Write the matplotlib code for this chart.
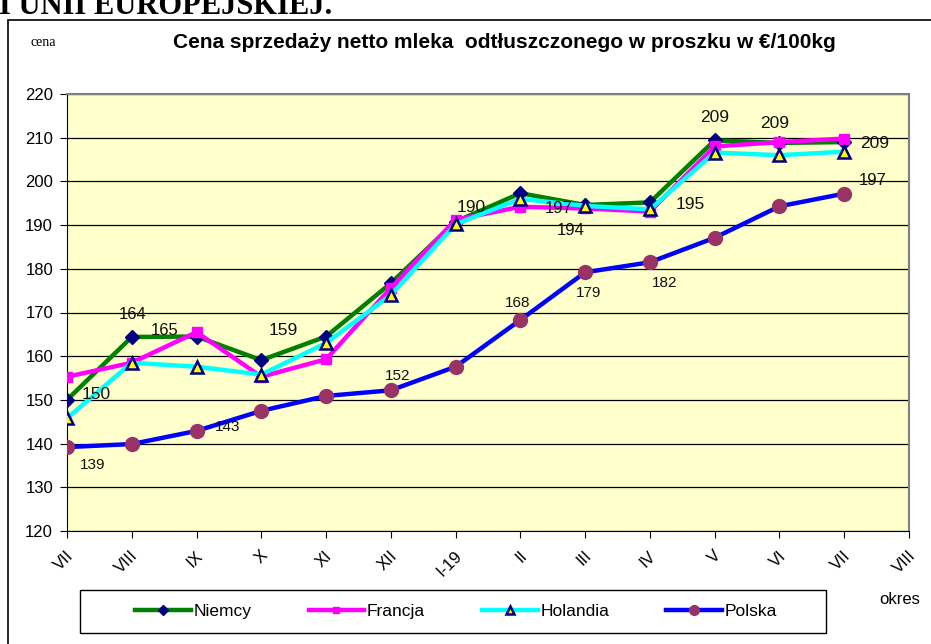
import numpy as np
import matplotlib
matplotlib.use("Agg")
import matplotlib.pyplot as plt
import matplotlib.patches as patches
from matplotlib.transforms import ScaledTranslation

# category labels on the x axis (last one has no data)
months = ["VII", "VIII", "IX", "X", "XI", "XII", "I-19", "II", "III", "IV", "V", "VI", "VII", "VIII"]

# prices in EUR/100kg
niemcy = [150.0, 164.4, 164.5, 159.1, 164.5, 176.7, 190.8, 197.3, 194.6, 195.2, 209.4, 208.8, 209.0]
francja = [155.3, 158.5, 165.5, 155.3, 159.3, 175.6, 191.2, 194.2, 193.8, 193.1, 208.0, 209.0, 209.8]
holandia = [145.8, 158.5, 157.6, 155.8, 163.0, 174.0, 190.2, 196.0, 194.4, 193.6, 206.6, 206.0, 206.8]
polska = [139.2, 139.9, 142.9, 147.5, 150.9, 152.2, 157.6, 168.3, 179.2, 181.5, 187.1, 194.3, 197.2]

# data labels: (series index, point index, text, dx px, dy px, size)
labels = [
    (0, 0, "150", 29, 5, 12.5), (0, 1, "164", 1, 22, 12), (0, 2, "165", -32, 6, 12),
    (0, 3, "159", 22, 30, 12.5), (0, 6, "190", 16, 14, 12.5), (1, 7, "197", 38, -2, 12),
    (1, 8, "194", -14, -22, 12), (0, 9, "195", 40, -2, 12.5), (0, 10, "209", 0, 23, 12.5),
    (0, 11, "209", -5, 19, 12.5), (0, 12, "209", 30, -1, 12.5),
    (3, 12, "197", 28, 13, 12), (3, 0, "139", 26, -18, 11), (3, 2, "143", 31, 4, 11),
    (3, 5, "152", 7, 14, 11), (3, 7, "168", -3, 17, 11), (3, 8, "179", 3, -21, 11),
    (3, 9, "182", 15, -21, 11),
]

W, H = 931, 644
plt.rcParams['font.family'] = ['Liberation Sans', 'DejaVu Sans']
fig = plt.figure(figsize=(W / 100, H / 100), dpi=100)

# chart frame
fig.patches.append(patches.Rectangle((8 / W, -0.05), 1.1, 1 - 20 / H + 0.05, transform=fig.transFigure,
                                     fill=False, edgecolor='black', linewidth=1.2))
fig.text(-1 / W, 1 - 14 / H, "I UNII EUROPEJSKIEJ.", family='Liberation Serif', weight='bold',
         fontsize=22, va='baseline', ha='left')
fig.text(30 / W, 1 - 42 / H, "cena", family='Liberation Serif', fontsize=10, va='center', ha='left')
fig.text(504 / W, 1 - 43 / H, "Cena sprzedaży netto mleka  odtłuszczonego w proszku w €/100kg",
         weight='bold', fontsize=15, va='center', ha='center')
fig.text(900 / W, 1 - 600 / H, "okres", fontsize=12, va='center', ha='center')

left, right, top, bottom = 67, 909, 94, 531
ax = fig.add_axes([left / W, 1 - bottom / H, (right - left) / W, (bottom - top) / H])
ax.set_facecolor('#FFFFCC')
x = np.arange(len(niemcy))

series = [
    (niemcy, 'Niemcy', '#008000', dict(marker='D', markersize=7, markerfacecolor='#000080', markeredgecolor='#000080')),
    (francja, 'Francja', '#FF00FF', dict(marker='s', markersize=7, markerfacecolor='#FF00FF', markeredgecolor='#FF00FF')),
    (holandia, 'Holandia', '#00FFFF', dict(marker='^', markersize=9, markerfacecolor='#FFFF00', markeredgecolor='#000080', markeredgewidth=1.8)),
    (polska, 'Polska', '#0000FF', dict(marker='o', markersize=10, markerfacecolor='#993366', markeredgecolor='#993366')),
]
handles = []
for vals, name, col, mk in series:
    h, = ax.plot(x, vals, color=col, linewidth=3.2, label=name, zorder=3, **mk)
    handles.append(h)

data = [s[0] for s in series]
for si, pi, txt, dx, dy, fs in labels:
    ax.annotate(txt, (x[pi], data[si][pi]), xytext=(dx * 0.72, dy * 0.72), textcoords='offset points',
                ha='center', va='center', fontsize=fs, color='#111111', zorder=5)

ax.set_xlim(0, len(months) - 1)
ax.set_ylim(120, 220)
ax.set_yticks(np.arange(120, 221, 10))
ax.set_xticks(np.arange(len(months)))
ax.set_xticklabels(months, rotation=45, ha='right', va='center', rotation_mode='anchor', fontsize=12)
ax.tick_params(axis='x', direction='out', length=5, pad=11)
ax.tick_params(axis='y', direction='out', length=5, labelsize=12, pad=5)
shift = ScaledTranslation(0.04, 0, fig.dpi_scale_trans)
for lab in ax.get_xticklabels():
    lab.set_transform(lab.get_transform() + shift)
ax.grid(axis='y', color='black', linewidth=0.9)
ax.set_axisbelow(True)
for side in ['top', 'right']:
    ax.spines[side].set_color('#808080')
    ax.spines[side].set_linewidth(1.5)
for side in ['left', 'bottom']:
    ax.spines[side].set_color('black')

# legend box drawn separately, entries without frame
fig.patches.append(patches.Rectangle((80 / W, 1 - 633 / H), 746 / W, 43 / H, transform=fig.transFigure,
                                     fill=False, edgecolor='black', linewidth=1.0))
fig.legend(handles=handles, loc='center', bbox_to_anchor=(456 / W, 1 - 611 / H), ncol=4,
           frameon=False, fontsize=12.5, handlelength=3.2, handletextpad=0.15,
           columnspacing=3.3, markerscale=0.7)

fig.savefig("out.png", dpi=100)
